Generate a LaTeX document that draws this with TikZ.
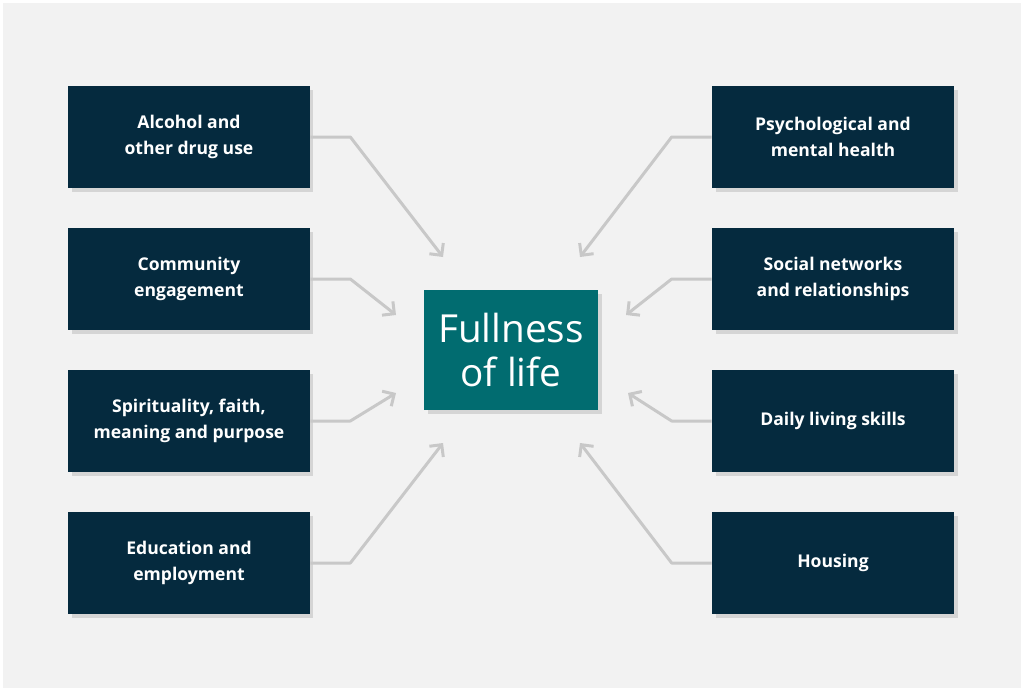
\documentclass[tikz,border=0pt]{standalone}
\usepackage{fontspec}
\setmainfont{Open Sans}
\usetikzlibrary{arrows.meta,shadows}
\definecolor{navy}{HTML}{052A3E}
\definecolor{teal}{HTML}{016C70}
\definecolor{paper}{HTML}{F2F2F2}
\definecolor{link}{HTML}{C8C8C8}
\tikzset{
	factor/.style={fill=navy,text=white,font=\bfseries\fontsize{10}{14.8}\selectfont,
		align=center,minimum width=4.84cm,minimum height=2.04cm,inner sep=0pt,
		drop shadow={opacity=0.25,shadow xshift=2pt,shadow yshift=-2pt}},
	goal/.style={fill=teal,text=white,font=\fontsize{22}{25.6}\selectfont\addfontfeatures{FakeBold=0},
		align=center,minimum width=3.48cm,minimum height=2.4cm,inner sep=0pt,
		drop shadow={opacity=0.25,shadow xshift=2pt,shadow yshift=-2pt}},
	feed/.style={draw=link,line width=1.7pt,line join=round,
		-{Straight Barb[length=5pt,width=10pt,line width=1.7pt]}}
}
\begin{document}
\begin{tikzpicture}[x=0.02cm,y=-0.02cm]
\fill[white] (0,0) rectangle (1024,691);
\fill[paper] (3,3) rectangle (1021,688);
\node[goal] (G) at (511,350) {Fullness\\of life};
\node[factor] (L1) at (189,137) {Alcohol and\\other drug use};
\node[factor] (L2) at (189,279) {Community\\engagement};
\node[factor] (L3) at (189,421) {Spirituality, faith,\\meaning and purpose};
\node[factor] (L4) at (189,563) {Education and\\employment};
\node[factor] (R1) at (833,137) {Psychological and\\mental health};
\node[factor] (R2) at (833,279) {Social networks\\and relationships};
\node[factor] (R3) at (833,421) {Daily living skills};
\node[factor] (R4) at (833,563) {Housing};
% tips of the arrows, short of the centre box
\coordinate (TL1) at (443,257);
\coordinate (TL2) at (396,315);
\coordinate (TL3) at (396,393);
\coordinate (TL4) at (443,443);
\coordinate (TR1) at (580,257);
\coordinate (TR2) at (626,315);
\coordinate (TR3) at (628,393);
\coordinate (TR4) at (580,443);
\foreach \i in {1,2,3,4}{
	\draw[feed] (L\i.east) -- ++(40,0) -- (TL\i);
	\draw[feed] (R\i.west) -- ++(-40,0) -- (TR\i);
}
\end{tikzpicture}
\end{document}
